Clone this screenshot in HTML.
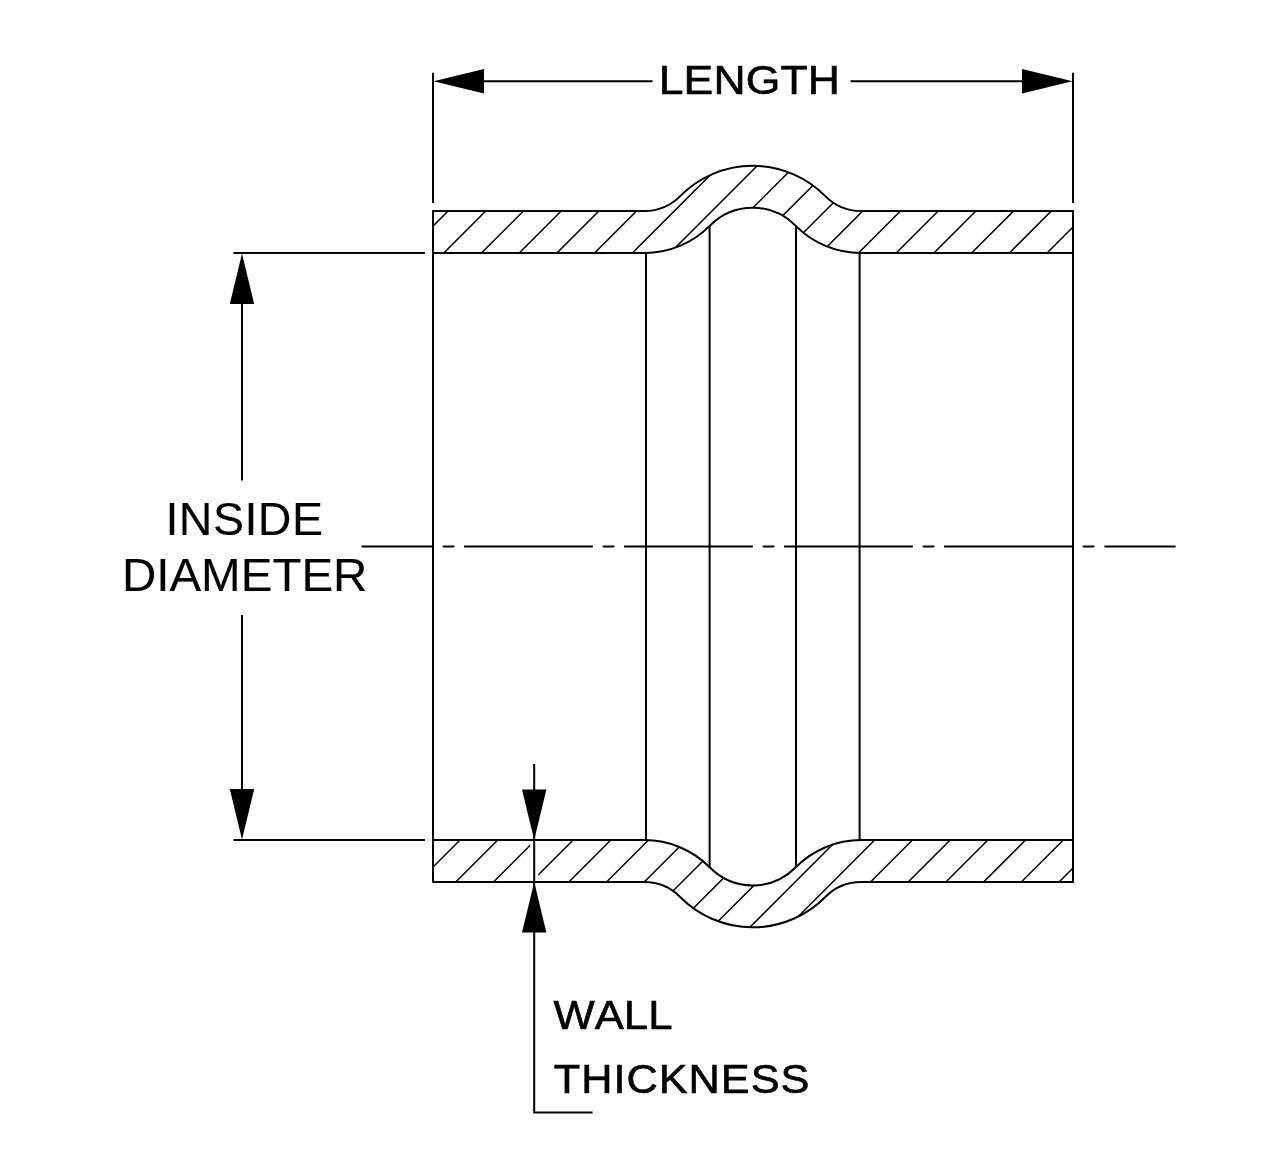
<!DOCTYPE html>
<html><head><meta charset="utf-8"><title>Hose coupler diagram</title>
<style>
html,body{margin:0;padding:0;background:#fff;}
svg{display:block;will-change:transform;}
text{font-family:"Liberation Sans", sans-serif;fill:#000;font-kerning:none;stroke:#000;}
</style></head>
<body>
<svg width="1280" height="1170" viewBox="0 0 1280 1170">
<defs>
<clipPath id="ct"><path d="M433,211.1 L644.4,211.1 A50.18,50.18 0 0 0 680.13,196.16 A101.97,101.97 0 0 1 825.33,196.16 A50.18,50.18 0 0 0 861.06,211.1 L1073,211.1 L1073,253 L861.06,253 A92.08,92.08 0 0 1 795.5,225.58 A60.07,60.07 0 0 0 709.96,225.58 A92.08,92.08 0 0 1 644.4,253 L433,253Z"/></clipPath>
<mask id="mb" maskUnits="userSpaceOnUse" x="0" y="0" width="1280" height="1170"><path d="M433,882 L644.4,882 A50.18,50.18 0 0 1 680.13,896.94 A101.97,101.97 0 0 0 825.33,896.94 A50.18,50.18 0 0 1 861.06,882 L1073,882 L1073,840.1 L861.06,840.1 A92.08,92.08 0 0 0 795.5,867.52 A60.07,60.07 0 0 1 709.96,867.52 A92.08,92.08 0 0 0 644.4,840.1 L433,840.1Z" fill="#fff"/><rect x="530" y="820" width="8.3" height="80" fill="#000"/></mask>
</defs>
<rect width="1280" height="1170" fill="#fff"/>
<g stroke="#000" fill="none" stroke-width="1.5">
<path clip-path="url(#ct)" d="M323.66,260L433.66,150M361.36,260L471.36,150M399.07,260L509.07,150M436.77,260L546.77,150M474.48,260L584.48,150M512.18,260L622.18,150M549.88,260L659.88,150M587.59,260L697.59,150M625.29,260L735.29,150M663,260L773,150M700.7,260L810.7,150M738.4,260L848.4,150M776.11,260L886.11,150M813.81,260L923.81,150M851.52,260L961.52,150M889.22,260L999.22,150M926.92,260L1036.92,150M964.63,260L1074.63,150M1002.33,260L1112.33,150M1040.04,260L1150.04,150M1077.74,260L1187.74,150"/>
<path mask="url(#mb)" d="M317.33,945L429.33,833M355.04,945L467.04,833M392.74,945L504.74,833M430.44,945L542.44,833M468.15,945L580.15,833M505.85,945L617.85,833M543.56,945L655.56,833M581.26,945L693.26,833M618.96,945L730.96,833M656.67,945L768.67,833M694.37,945L806.37,833M732.08,945L844.08,833M769.78,945L881.78,833M807.48,945L919.48,833M845.19,945L957.19,833M882.89,945L994.89,833M920.6,945L1032.6,833M958.3,945L1070.3,833M996,945L1108,833M1033.71,945L1145.71,833M1071.41,945L1183.41,833"/>
</g>
<g stroke="#000" fill="none" stroke-width="2.0" stroke-linejoin="round">
<path d="M433,211.1 L644.4,211.1 A50.18,50.18 0 0 0 680.13,196.16 A101.97,101.97 0 0 1 825.33,196.16 A50.18,50.18 0 0 0 861.06,211.1 L1073,211.1 L1073,253 L861.06,253 A92.08,92.08 0 0 1 795.5,225.58 A60.07,60.07 0 0 0 709.96,225.58 A92.08,92.08 0 0 1 644.4,253 L433,253Z"/>
<path d="M433,882 L644.4,882 A50.18,50.18 0 0 1 680.13,896.94 A101.97,101.97 0 0 0 825.33,896.94 A50.18,50.18 0 0 1 861.06,882 L1073,882 L1073,840.1 L861.06,840.1 A92.08,92.08 0 0 0 795.5,867.52 A60.07,60.07 0 0 1 709.96,867.52 A92.08,92.08 0 0 0 644.4,840.1 L433,840.1Z"/>
<path d="M433,253V840.1 M1073,253V840.1"/>
<path d="M646,252.99L646,840.11M709.6,225.94L709.6,867.16M796,226.08L796,867.02M859.6,252.99L859.6,840.11"/>
</g>
<g stroke="#000" fill="none" stroke-width="2.0">
<path d="M361.6,546.4H432.8M442.8,546.4H454.3M464.1,546.4H592.8M602.7,546.4H614.3M624.1,546.4H752.8M762.7,546.4H774.3M784.1,546.4H912.8M922.7,546.4H934.3M944.1,546.4H1072.8M1082.7,546.4H1094.3M1104.4,546.4H1175.6"/>
<path d="M433,72.8V203 M1073,72.8V203M440,81.25H652.5 M850.5,81.25H1066M233.5,253H425 M233.5,840H425M242,260V480.5 M242,615V833M534.2,764V1112.5H592.5"/>
</g>
<path d="M433.5,81.25L484,69.05L484,93.45ZM1072.5,81.25L1022,93.45L1022,69.05ZM242,253.5L254.2,304L229.8,304ZM242,839.5L229.8,789L254.2,789ZM534.2,840L522,789.5L546.4,789.5ZM534.2,882L546.4,932.5L522,932.5Z" fill="#000"/>
<text transform="translate(658.68,94.1) scale(1.0893,1)" font-size="40.84" letter-spacing="0.165" stroke-width="0.6">LENGTH</text><text transform="translate(165.48,534.5) scale(1.0046,1)" font-size="46.37" letter-spacing="0.438" stroke-width="0.1">INSIDE</text><text transform="translate(121.9,591.1) scale(1.0380,1)" font-size="45.79" letter-spacing="0.000" stroke-width="0.1">DIAMETER</text><text transform="translate(553.5,1028.8) scale(1.0700,1)" font-size="40.84" letter-spacing="0.000" stroke-width="0.6">WALL</text><text transform="translate(553.74,1092.7) scale(1.0688,1)" font-size="40.55" letter-spacing="0.908" stroke-width="0.6">THICKNESS</text>
</svg>
</body></html>
